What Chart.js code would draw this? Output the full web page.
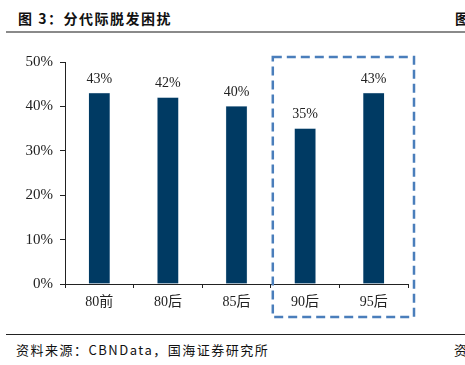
<!DOCTYPE html>
<html>
<head>
<meta charset="utf-8">
<script src="https://cdn.jsdelivr.net/npm/chart.js@4/dist/chart.umd.min.js"></script>
<style>
  body { margin: 0; background: #fff; }
  #wrap { position: relative; width: 465px; height: 365px; overflow: hidden; }
  .title { position: absolute; left: 18px; top: 8px; font: bold 14px "Noto Sans CJK SC", sans-serif; color: #111; letter-spacing: 1.5px; white-space: nowrap; }
  .title-r { position: absolute; left: 455px; top: 8px; font: bold 14px "Noto Sans CJK SC", sans-serif; color: #111; }
  .rule-top { position: absolute; left: 6px; right: 0; top: 31px; height: 2px; background: #8a8a8a; }
  .rule-bot { position: absolute; left: 6px; right: 0; top: 334px; height: 1px; background: #222; }
  .src { position: absolute; left: 16px; top: 340px; font: 13px "Noto Sans CJK SC", sans-serif; color: #111; white-space: nowrap; letter-spacing: 1.5px; }
  .src-r { position: absolute; left: 454px; top: 340px; font: 13px "Noto Sans CJK SC", sans-serif; color: #111; }
  #box { position: absolute; left: 0; top: 40px; width: 465px; height: 290px; }
</style>
</head>
<body>
<div id="wrap">
  <div class="title">图 3：分代际脱发困扰</div>
  <div class="title-r">图</div>
  <div class="rule-top"></div>
  <div id="box"><canvas id="barChart"></canvas></div>
  <div class="rule-bot"></div>
  <div class="src">资料来源：CBNData，国海证券研究所</div>
  <div class="src-r">资</div>
</div>
<script>
const categories = ['80前', '80后', '85后', '90后', '95后'];
const shares = [43, 42, 40, 35, 43];
const yTicks = ['0%', '10%', '20%', '30%', '40%', '50%'];

// value labels above bars
const valueLabels = {
    id: 'valueLabels',
    afterDatasetsDraw(chart) {
        const ctx = chart.ctx;
        const meta = chart.getDatasetMeta(0);
        ctx.save();
        ctx.font = '14px "Liberation Serif", serif';
        ctx.fillStyle = '#222';
        ctx.textAlign = 'center';
        ctx.textBaseline = 'bottom';
        meta.data.forEach((bar, i) => {
            ctx.fillText(shares[i] + '%', bar.x, bar.y - 7);
        });
        ctx.restore();
    }
};

// dashed highlight around the last two groups
const highlightBox = {
    id: 'highlightBox',
    afterDraw(chart) {
        const x = chart.scales.x, y = chart.scales.y;
        const left = (x.getPixelForValue(2) + x.getPixelForValue(3)) / 2 + 2;
        const right = chart.chartArea.right + 6;
        const top = y.getPixelForValue(50) - 5;
        const bottom = chart.chartArea.bottom + 33;
        const ctx = chart.ctx;
        ctx.save();
        ctx.strokeStyle = '#4a7ebb';
        ctx.lineWidth = 2.5;
        ctx.setLineDash([9, 5]);
        ctx.strokeRect(left, top, right - left, bottom - top);
        ctx.restore();
    }
};

const barCtx = document.getElementById('barChart').getContext('2d');
new Chart(barCtx, {
    type: 'bar',
    data: {
        labels: categories,
        datasets: [{
            data: shares,
            backgroundColor: '#003a63',
            borderColor: '#c9d6e3',
            borderWidth: 0.5,
            barThickness: 21,
        }],
    },
    options: {
        responsive: true,
        maintainAspectRatio: false,
        animation: false,
        layout: { padding: { top: 22, right: 57, left: 0, bottom: 0 } },
        plugins: {
            legend: { display: false },
            tooltip: { enabled: false },
        },
        scales: {
            x: {
                offset: true,
                afterFit: (s) => { s.height = 46; },
                grid: {
                    offset: true,
                    drawOnChartArea: false,
                    drawTicks: true,
                    tickLength: 4,
                    color: '#222',
                },
                border: { color: '#222', width: 1 },
                ticks: {
                    color: '#222',
                    padding: 6,
                    font: { family: '"Liberation Serif", "Noto Sans CJK SC", serif', size: 14 },
                },
            },
            y: {
                min: 0,
                max: 50,
                afterFit: (s) => { s.width = 65; },
                grid: {
                    drawOnChartArea: false,
                    drawTicks: true,
                    tickLength: 5,
                    color: '#222',
                },
                border: { color: '#222', width: 1 },
                ticks: {
                    stepSize: 10,
                    color: '#222',
                    padding: 7,
                    font: { family: '"Liberation Serif", serif', size: 15 },
                    callback: (v) => yTicks[v / 10],
                },
            },
        },
    },
    plugins: [valueLabels, highlightBox],
});
</script>
</body>
</html>
